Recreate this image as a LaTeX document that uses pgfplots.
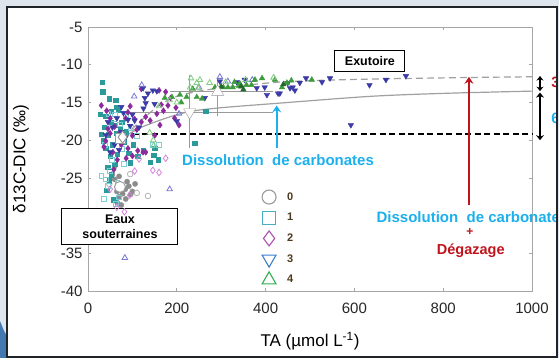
\documentclass[border=0pt]{standalone}
\usepackage{fontspec}
\setmainfont{Liberation Sans}
\usepackage{pgfplots}
\pgfplotsset{compat=1.18}
\usetikzlibrary{arrows.meta}
\definecolor{bgc}{HTML}{DFE5EC}
\definecolor{framec}{HTML}{202428}
\definecolor{axgray}{HTML}{A6A6A6}
\definecolor{curvegray}{HTML}{A0A0A0}
\definecolor{gfill}{HTML}{8C8C8C}
\definecolor{gopen}{HTML}{B4B4B4}
\definecolor{tfill}{HTML}{2C9A9A}
\definecolor{topen}{HTML}{7CCFD6}
\definecolor{pfill}{HTML}{8C2A9C}
\definecolor{popen}{HTML}{D884DC}
\definecolor{bfill}{HTML}{3B3AA6}
\definecolor{bopen}{HTML}{7A78D6}
\definecolor{vfill}{HTML}{3C9B3C}
\definecolor{vdark}{HTML}{23692A}
\definecolor{vopen}{HTML}{84CC84}
\definecolor{cyanc}{HTML}{1CB0EC}
\definecolor{redc}{HTML}{C0141C}
\definecolor{legc}{HTML}{4A3B1F}
\definecolor{lgray}{HTML}{9A9A9A}
\definecolor{lteal}{HTML}{4BACC6}
\definecolor{lpurp}{HTML}{B050B0}
\definecolor{lblue}{HTML}{3A7FD0}
\definecolor{lgreen}{HTML}{2FB050}
\begin{document}
\begin{tikzpicture}
\fill[bgc] (-88pt,-67pt) rectangle (471pt,291pt);
\fill[white] (-81pt,-66pt) rectangle (469pt,284pt);
\begin{axis}[
  width=444pt, height=264pt, scale only axis,
  xmin=0, xmax=1000, ymin=-40, ymax=-5,
  xtick={0,200,400,600,800,1000},
  ytick={-40,-35,-30,-25,-20,-15,-10,-5},
  /pgf/number format/assume math mode=true,
  /pgf/number format/1000 sep={},
  axis line style={draw=axgray, line width=0.8pt},
  tick style={draw=axgray, line width=0.7pt},
  tick align=inside, major tick length=3pt,
  ticklabel style={font=\fontsize{15}{18}\selectfont, text=black!85},
  xticklabel style={yshift=-8pt},
  yticklabel style={xshift=-2pt},
  xlabel={TA (µmol L\textsuperscript{-1})},
  ylabel={δ13C-DIC (‰)},
  xlabel style={font=\fontsize{17}{20}\selectfont, at={(rel axis cs:0.5,0)}, anchor=base, yshift=-56pt},
  ylabel style={font=\fontsize{17}{20}\selectfont, at={(rel axis cs:0,0.5)}, anchor=center, yshift=67pt},
  clip=false,
  legend image code/.code={\draw[#1] plot coordinates {(8.5pt,0pt)}; \path (0pt,-9pt) (24pt,9pt);},
  legend style={draw=none, fill=none, at={(axis cs:387,-26.25)}, anchor=north west,
    font=\fontsize{11}{12}\selectfont\bfseries, text=legc, row sep=1.6pt, inner sep=0pt},
  legend cell align=left,
]
% reference lines and curves
\addplot[black, line width=1.8pt, dash pattern=on 6pt off 3.5pt, forget plot] coordinates {(101,-19.2) (1000,-19.2)};
\addplot[curvegray, line width=1.2pt, dash pattern=on 7pt off 4pt, smooth, forget plot] coordinates {
(80,-19.6) (105,-18.2) (135,-16.6) (165,-15.2) (200,-14.2) (250,-13.5) (300,-13.1) (431,-12.3) (600,-11.95) (853,-11.7) (1000,-11.6)};
\addplot[curvegray, line width=1.2pt, smooth, forget plot] coordinates {
(80,-19.6) (120,-18.3) (180,-17.0) (230,-16.2) (300,-15.7) (430,-15.1) (634,-14.2) (800,-13.8) (1000,-13.5)};
% group 0 gray circles
\addplot[only marks, mark=*, mark size=2.6pt, draw=gfill, fill=gfill, forget plot] coordinates {
(55,-24.5) (60,-25.2) (65,-26.8) (70,-27.5) (78,-27.1) (84,-26.5) (88,-25.5) (92,-26.1) (96,-27.2) (100,-26.8) (106,-25.8) (60,-23.5) (70,-24.8) (85,-27.8) (66,-28.3) (75,-28.6)};
\addplot[only marks, mark=o, mark size=2.8pt, draw=gopen, mark options={line width=0.8pt}, forget plot] coordinates {
(135,-27.4) (48,-25.8) (110,-27.0) (95,-24.5)};
% group 1 teal squares
\addplot[only marks, mark=square*, mark size=2.2pt, draw=tfill, fill=tfill, forget plot] coordinates {
(32,-12.3) (33,-13.6) (48,-14.5) (62,-14.7) (68,-16) (28,-16.6) (40,-16.8) (52,-16.2) (36,-18.3) (45,-19.3) (55,-20.6) (40,-21.1) (50,-22.1) (60,-23.2) (66,-21.9) (44,-23.6) (52,-24.6) (34,-20.1) (76,-17.6) (86,-18.9) (102,-20.6) (112,-22.1) (125,-21.4) (148,-22.0) (158,-22.6) (265,-16.2) (240,-20.4) (150,-21.1) (65,-19.1) (80,-20.2) (92,-21.7) (48,-25.4) (58,-27.9) (42,-26.6) (60,-18) (72,-18.6) (30,-19.2) (95,-23) (140,-22.9) (52,-17.6) (63,-15.6)};
\addplot[only marks, mark=square, mark size=2.4pt, draw=topen, mark options={line width=0.8pt}, forget plot] coordinates {
(46,-16.5) (58,-17.2) (72,-17.9) (38,-20.6) (54,-22.6) (76,-21.2) (86,-16.9) (96,-18.4) (145,-20.6) (160,-20.6) (50,-24.1) (40,-25.2) (45,-26.1) (62,-28.4) (30,-24.7) (66,-25.6) (80,-23.2) (60,-16.6) (110,-19.4) (35,-27.8) (70,-27.6)};
% group 2 purple diamonds
\addplot[only marks, mark=diamond*, mark size=3pt, draw=pfill, fill=pfill, forget plot] coordinates {
(30,-15.4) (42,-16.1) (50,-17.1) (60,-18.2) (70,-19.2) (80,-20.1) (90,-21.1) (100,-19.4) (110,-18.6) (120,-17.6) (130,-16.9) (140,-17.4) (150,-19.4) (162,-18) (170,-16.1) (180,-15.4) (186,-14.4) (175,-13.6) (198,-15.7) (195,-17.1) (160,-13.4) (120,-13.2) (130,-21.6) (112,-21.4) (205,-18.0) (40,-20.1) (56,-21.6) (66,-22.6) (75,-20.6) (85,-17.1) (95,-15.5) (58,-23.9) (36,-20.9) (50,-19.1) (100,-22.1) (124,-21.6) (86,-22.4) (90,-16.3) (105,-17.2) (45,-18.5) (165,-15.3) (155,-16.5)};
\addplot[only marks, mark=diamond, mark size=3.2pt, draw=popen, mark options={line width=0.8pt}, forget plot] coordinates {
(105,-24.1) (146,-24.0) (160,-24.3) (65,-28.9) (94,-27.3) (72,-26.4) (115,-22.5) (50,-26.5) (175,-22.4) (82,-29.5)};
% group 3 blue down triangles
\addplot[only marks, mark=triangle*, mark size=3.2pt, draw=bfill, fill=bfill, every mark/.append style={rotate=180}, forget plot] coordinates {
(45,-17.6) (55,-18.3) (65,-17.1) (75,-18.9) (85,-19.6) (95,-18.1) (105,-17.4) (60,-20.6) (70,-21.3) (50,-21.6) (80,-16.4) (90,-17.3) (40,-19.3) (100,-16.6) (115,-18.3) (125,-15.8) (75,-15.6)
(124,-13.1) (135,-13.8) (146,-13.4) (128,-14.4) (130,-15.1) (150,-15.2) (155,-13.5) (200,-17.5) (263,-14.4) (297,-12.2) (335,-12.3) (353,-12.0) (380,-13.1) (398,-13.0) (403,-14.0) (432,-13.8) (455,-13.1) (461,-13.0) (477,-12.4) (491,-11.8) (527,-12.3) (545,-11.8) (634,-12.7) (671,-12.0) (716,-11.5) (592,-18.0) (466,-13.4) (450,-12.4) (428,-13.8)};
\addplot[only marks, mark=triangle, mark size=3.2pt, draw=bopen, every mark/.append style={rotate=180}, mark options={line width=0.8pt}, forget plot] coordinates {
(121,-12.7) (297,-11.6) (315,-12.2) (370,-12.0) (250,-13.0) (184,-26.5) (83,-35.6) (104,-14.2) (205,-16.5)};
% group 4 green up triangles
\addplot[only marks, mark=triangle*, mark size=3.2pt, draw=vfill, fill=vfill, forget plot] coordinates {
(173,-14.4) (189,-14.3) (207,-14.0) (222,-14.3) (236,-13.2) (245,-14.3) (257,-14.5) (286,-13.0) (305,-13.0) (315,-13.0) (326,-13.0) (342,-12.5) (357,-12.7) (368,-12.7) (376,-12.0) (392,-11.8) (421,-12.0) (437,-13.0) (448,-12.4) (458,-12.1) (504,-12.0) (340,-12.8) (330,-12.3) (210,-15.0)};
\addplot[only marks, mark=triangle*, mark size=3.2pt, draw=vdark, fill=vdark, forget plot] coordinates {
(300,-12.9) (345,-12.9) (440,-12.6) (350,-13.3)};
\addplot[only marks, mark=triangle, mark size=3.2pt, draw=vopen, mark options={line width=0.8pt}, forget plot] coordinates {
(230,-13.0) (248,-13.1) (245,-12.4) (200,-15.0) (184,-14.7) (147,-20.0) (148,-20.7) (139,-19.0) (274,-12.4) (252,-12.0) (160,-15.5) (232,-11.8) (310,-12.3) (355,-12.0) (418,-11.7)};
% big mean markers with error bars
\addplot[only marks, mark=triangle*, mark size=7pt, draw=lgray, fill=white, every mark/.append style={rotate=180}, forget plot,
  error bars/.cd, x dir=both, x explicit, y dir=both, y explicit, error bar style={lgray, line width=0.8pt}, error mark options={lgray, mark size=3pt, line width=0.8pt}]
  coordinates {(229,-16.3) += (180,4.6) -= (164,4.3)};
\addplot[only marks, mark=triangle*, mark size=7pt, draw=lgray, fill=white, forget plot,
  error bars/.cd, x dir=both, x explicit, y dir=both, y explicit, error bar style={lgray, line width=0.8pt}, error mark options={lgray, mark size=3pt, line width=0.8pt}]
  coordinates {(292,-13.6) += (117,1.4) -= (101,2.8)};
\addplot[only marks, mark=*, mark size=5.5pt, draw=lgray, fill=white, line width=1pt, forget plot] coordinates {(72,-26.2)};
\addplot[only marks, mark=square*, mark size=5pt, draw=lgray, fill=white, line width=1pt, forget plot] coordinates {(74,-19.8)};
\addplot[only marks, mark=diamond*, mark size=6pt, draw=lgray, fill=white, line width=1pt, forget plot] coordinates {(78,-19.6)};
% legend
\addlegendimage{only marks, mark=o, mark size=7pt, draw=lgray, line width=1.1pt}
\addlegendentry{0}
\addlegendimage{only marks, mark=square, mark size=6.5pt, draw=lteal, line width=1.1pt}
\addlegendentry{1}
\addlegendimage{only marks, mark=diamond, mark size=7.5pt, draw=lpurp, line width=1.1pt}
\addlegendentry{2}
\addlegendimage{only marks, mark=triangle, mark size=8pt, draw=lblue, line width=1.1pt, every mark/.append style={rotate=180}}
\addlegendentry{3}
\addlegendimage{only marks, mark=triangle, mark size=8pt, draw=lgreen, line width=1.1pt}
\addlegendentry{4}
% annotations
\node[draw=black, line width=1pt, fill=white, minimum width=70pt, minimum height=21pt, inner sep=0pt,
  font=\fontsize{12.5}{14}\selectfont\bfseries] at (axis cs:635,-9.57) {Exutoire};
\node[draw=black, line width=1pt, fill=white, minimum width=116pt, minimum height=36pt, inner sep=0pt, align=center,
  font=\fontsize{12.5}{15}\selectfont\bfseries] at (axis cs:72,-31.5) {Eaux\\souterraines};
\draw[cyanc, line width=2pt, -{Stealth[length=7pt,width=9pt,inset=2.5pt]}] (axis cs:425,-21.0) -- (axis cs:425,-15.4);
\node[text=cyanc, font=\fontsize{15}{18}\selectfont\bfseries, inner sep=0pt] at (axis cs:428,-22.6) {Dissolution\ \ de carbonates};
\draw[redc, line width=2pt, -{Stealth[length=7pt,width=9pt,inset=2.5pt]}] (axis cs:858,-28.6) -- (axis cs:858,-11.6);
\node[text=cyanc, font=\fontsize{15}{18}\selectfont\bfseries, inner sep=0pt] at (axis cs:866,-30.2) {Dissolution\ \ de carbonates};
\node[text=redc, font=\fontsize{12}{13}\selectfont\bfseries, inner sep=0pt] at (axis cs:860,-32.2) {+};
\node[text=redc, font=\fontsize{14.5}{17}\selectfont\bfseries, inner sep=0pt] at (axis cs:862,-34.7) {Dégazage};
\draw[black, line width=1.6pt, {Stealth[length=4.5pt,width=7pt]}-{Stealth[length=4.5pt,width=7pt]}] (axis cs:1018,-11.5) -- (axis cs:1018,-13.5);
\draw[black, line width=1.6pt, {Stealth[length=5pt,width=8pt]}-{Stealth[length=5pt,width=8pt]}] (axis cs:1018,-13.7) -- (axis cs:1018,-20.0);
\node[text=redc, font=\fontsize{15}{18}\selectfont\bfseries, anchor=west, inner sep=0pt] at (axis cs:1043,-12.3) {3};
\node[text=cyanc, font=\fontsize{15}{18}\selectfont\bfseries, anchor=west, inner sep=0pt] at (axis cs:1043,-17.1) {6};
\end{axis}
\fill[bgc, even odd rule] (-88pt,-67pt) rectangle (471pt,291pt) (-81pt,-66pt) rectangle (469pt,284pt);
\fill[blue!50!cyan!60!black, opacity=0.7] (-88pt,-67pt) -- (-88pt,-30pt) .. controls (-84pt,-40pt) .. (-81pt,-45pt) -- (-81pt,-67pt) -- cycle;
\draw[framec, line width=1.5pt] (-81pt,-66pt) rectangle (469pt,284pt);
\pgfresetboundingbox
\useasboundingbox (-88pt,-67pt) rectangle (471pt,291pt);
\end{tikzpicture}
\end{document}
